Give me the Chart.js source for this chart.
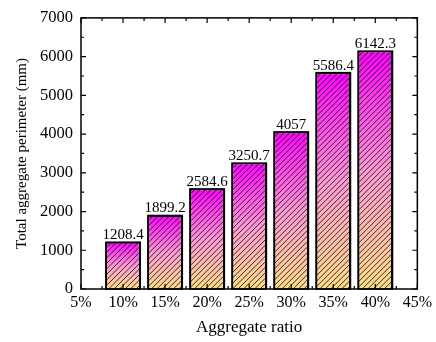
<!DOCTYPE html>
<html><head><meta charset="utf-8">
<script src="https://cdn.jsdelivr.net/npm/chart.js@4/dist/chart.umd.min.js"></script>
<style>html,body{margin:0;padding:0;background:#fff}#wrap{width:436px;height:342px}</style>
</head><body><div id="wrap"><canvas id="c" width="436" height="342"></canvas></div>
<script>
const ratios = [10, 15, 20, 25, 30, 35, 40];
const perimeters = [1208.4, 1899.2, 2584.6, 3250.7, 4057, 5586.4, 6142.3];
const labelTexts = ['1208.4', '1899.2', '2584.6', '3250.7', '4057', '5586.4', '6142.3'];
const xTickMin = 5, xTickMax = 45, xStep = 5;
const yTickMin = 0, yTickMax = 7000, yStep = 1000;
const FONT = '"Liberation Serif", "Times New Roman", serif';

function barGradient(context) {
  const chart = context.chart;
  const ys = chart.scales && chart.scales.y;
  if (!chart.chartArea || !ys || context.raw == null) return '#ff80d0';
  const top = ys.getPixelForValue(context.raw.y);
  const bottom = ys.getPixelForValue(0);
  if (!isFinite(top) || !isFinite(bottom)) return '#ff80d0';
  const g = chart.ctx.createLinearGradient(0, top, 0, bottom);
  g.addColorStop(0, '#ff00ff');
  g.addColorStop(0.5, '#ff9ad6');
  g.addColorStop(1, '#ffdd88');
  return g;
}

const decor = {
  id: 'decor',
  afterDatasetsDraw(chart) {
    const ctx = chart.ctx;
    const meta = chart.getDatasetMeta(0);
    meta.data.forEach((el) => {
      const left = el.x - el.width / 2, right = el.x + el.width / 2;
      const top = el.y, bottom = el.base;
      ctx.save();
      ctx.beginPath();
      ctx.rect(left + 1, top + 1, right - left - 2, bottom - top - 2);
      ctx.clip();
      ctx.strokeStyle = '#111';
      ctx.lineWidth = 0.85;
      const h = bottom - top;
      const sp = 5.5;
      ctx.beginPath();
      for (let x0 = left - h; x0 < right + sp; x0 += sp) {
        ctx.moveTo(x0, bottom);
        ctx.lineTo(x0 + h, top);
      }
      ctx.stroke();
      ctx.restore();
      ctx.save();
      ctx.strokeStyle = '#000';
      ctx.lineWidth = 1.5;
      ctx.strokeRect(left, top, right - left, bottom - top);
      ctx.restore();
    });
    ctx.save();
    ctx.fillStyle = '#000';
    ctx.font = '15px ' + FONT;
    ctx.textAlign = 'center';
    ctx.textBaseline = 'alphabetic';
    meta.data.forEach((el, i) => {
      ctx.fillText(labelTexts[i], el.x, el.y - 3);
    });
    ctx.restore();
    const a = chart.chartArea;
    const xs = chart.scales.x, ys = chart.scales.y;
    ctx.save();
    ctx.strokeStyle = '#000';
    ctx.lineWidth = 1.5;
    ctx.strokeRect(a.left, a.top, a.right - a.left, a.bottom - a.top);
    ctx.lineWidth = 1.2;
    ctx.beginPath();
    const xt = xs.ticks.map(t => t.value);
    xt.forEach((v, i) => {
      const p = xs.getPixelForValue(v);
      ctx.moveTo(p, a.bottom); ctx.lineTo(p, a.bottom - 5);
      ctx.moveTo(p, a.top); ctx.lineTo(p, a.top + 5);
      if (i < xt.length - 1) {
        const m = xs.getPixelForValue((v + xt[i + 1]) / 2);
        ctx.moveTo(m, a.bottom); ctx.lineTo(m, a.bottom - 3);
        ctx.moveTo(m, a.top); ctx.lineTo(m, a.top + 3);
      }
    });
    const yt = ys.ticks.map(t => t.value);
    yt.forEach((v, i) => {
      const p = ys.getPixelForValue(v);
      ctx.moveTo(a.left, p); ctx.lineTo(a.left + 5, p);
      ctx.moveTo(a.right, p); ctx.lineTo(a.right - 5, p);
      if (i < yt.length - 1) {
        const m = ys.getPixelForValue((v + yt[i + 1]) / 2);
        ctx.moveTo(a.left, m); ctx.lineTo(a.left + 3, m);
        ctx.moveTo(a.right, m); ctx.lineTo(a.right - 3, m);
      }
    });
    ctx.stroke();
    ctx.restore();
  }
};

new Chart(document.getElementById('c'), {
  type: 'bar',
  data: {
    datasets: [{
      data: ratios.map((r, i) => ({ x: r, y: perimeters[i] })),
      backgroundColor: barGradient,
      borderColor: '#000',
      borderWidth: 1.5,
      barPercentage: 0.82,
      categoryPercentage: 1
    }]
  },
  options: {
    responsive: false,
    animation: false,
    devicePixelRatio: 1,
    layout: { padding: { top: 15, right: 15, left: 0, bottom: 0 } },
    plugins: { legend: { display: false }, tooltip: { enabled: false } },
    scales: {
      x: {
        type: 'linear', min: xTickMin, max: xTickMax,
        offset: false,
        afterFit(s) { s.height = 53; },
        ticks: { stepSize: xStep, color: '#000', padding: 4, maxRotation: 0,
          font: { family: FONT, size: 16 }, callback: v => v + '%' },
        grid: { display: false, drawTicks: false },
        border: { display: false },
        title: { display: true, text: 'Aggregate ratio', color: '#000',
          font: { family: FONT, size: 17 }, padding: { top: 0, bottom: 4 } }
      },
      y: {
        min: yTickMin, max: yTickMax,
        afterFit(s) { s.width = 81; },
        ticks: { stepSize: yStep, color: '#000', padding: 8,
          font: { family: FONT, size: 16.5 }, callback: v => String(v) },
        grid: { display: false, drawTicks: false },
        border: { display: false },
        title: { display: true, text: 'Total aggregate perimeter (mm)', color: '#000',
          font: { family: FONT, size: 15 }, padding: { top: 13, bottom: 0 } }
      }
    }
  },
  plugins: [decor]
});
</script>
</body></html>
